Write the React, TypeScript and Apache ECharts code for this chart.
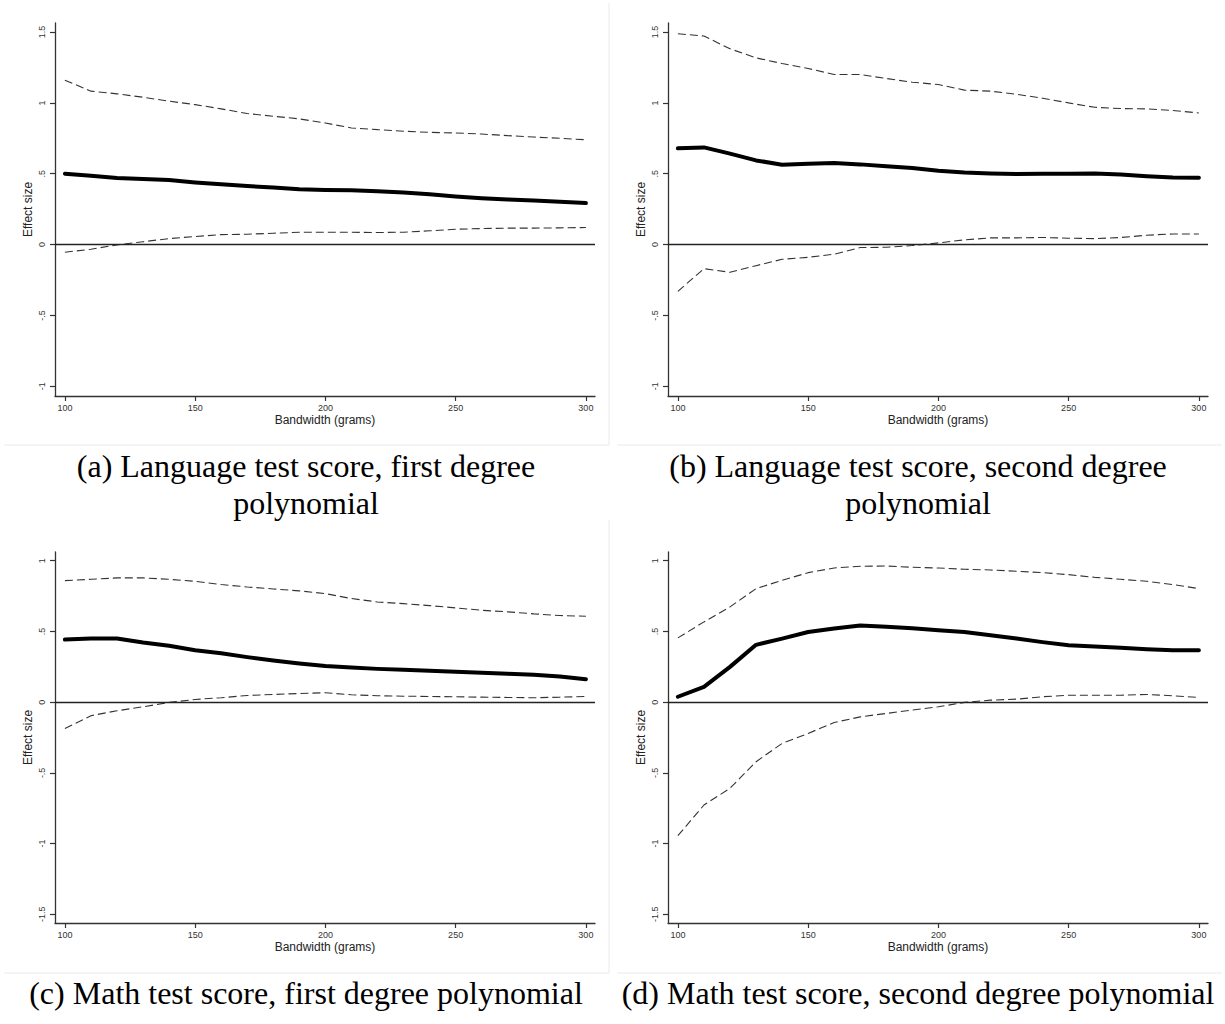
import React, { useEffect, useRef } from "react";
import * as echarts from "echarts";

// Bandwidths (grams) at which the discontinuity was estimated
const bandwidth = [100, 110, 120, 130, 140, 150, 160, 170, 180, 190, 200, 210, 220, 230, 240, 250, 260, 270, 280, 290, 300];

// (a) Language test score, first degree polynomial
const langFirstEst = [0.5, 0.485, 0.47, 0.462, 0.455, 0.438, 0.425, 0.413, 0.402, 0.39, 0.386, 0.383, 0.377, 0.368, 0.355, 0.34, 0.327, 0.318, 0.311, 0.303, 0.293];
const langFirstUpper = [1.16, 1.083, 1.064, 1.04, 1.012, 0.988, 0.958, 0.925, 0.906, 0.887, 0.858, 0.823, 0.811, 0.8, 0.792, 0.788, 0.78, 0.769, 0.759, 0.75, 0.74];
const langFirstLower = [-0.054, -0.033, -0.002, 0.02, 0.042, 0.057, 0.07, 0.073, 0.08, 0.087, 0.087, 0.087, 0.085, 0.087, 0.097, 0.108, 0.113, 0.116, 0.116, 0.118, 0.12];

// (b) Language test score, second degree polynomial
const langSecondEst = [0.679, 0.686, 0.642, 0.594, 0.564, 0.571, 0.575, 0.566, 0.552, 0.54, 0.521, 0.509, 0.502, 0.498, 0.5, 0.5, 0.502, 0.495, 0.483, 0.474, 0.472];
const langSecondUpper = [1.488, 1.472, 1.382, 1.318, 1.278, 1.243, 1.2, 1.2, 1.172, 1.146, 1.13, 1.09, 1.083, 1.061, 1.033, 1.0, 0.969, 0.96, 0.958, 0.946, 0.929];
const langSecondLower = [-0.33, -0.17, -0.196, -0.149, -0.104, -0.09, -0.068, -0.021, -0.019, -0.007, 0.012, 0.033, 0.047, 0.047, 0.05, 0.045, 0.042, 0.05, 0.066, 0.075, 0.075];

// (c) Math test score, first degree polynomial
const mathFirstEst = [0.442, 0.449, 0.449, 0.421, 0.398, 0.367, 0.346, 0.318, 0.294, 0.273, 0.256, 0.245, 0.235, 0.228, 0.221, 0.214, 0.207, 0.2, 0.193, 0.181, 0.162];
const mathFirstUpper = [0.859, 0.868, 0.878, 0.878, 0.868, 0.854, 0.831, 0.814, 0.8, 0.786, 0.767, 0.732, 0.708, 0.696, 0.682, 0.666, 0.649, 0.638, 0.624, 0.612, 0.607];
const mathFirstLower = [-0.186, -0.096, -0.061, -0.033, -0.002, 0.019, 0.031, 0.047, 0.054, 0.061, 0.066, 0.052, 0.045, 0.042, 0.04, 0.038, 0.035, 0.033, 0.031, 0.035, 0.04];

// (d) Math test score, second degree polynomial
const mathSecondEst = [0.038, 0.108, 0.249, 0.405, 0.449, 0.496, 0.52, 0.541, 0.532, 0.522, 0.508, 0.496, 0.473, 0.449, 0.424, 0.402, 0.393, 0.384, 0.374, 0.367, 0.367];
const mathSecondUpper = [0.454, 0.567, 0.673, 0.802, 0.861, 0.915, 0.948, 0.96, 0.962, 0.953, 0.948, 0.939, 0.934, 0.925, 0.915, 0.901, 0.882, 0.868, 0.854, 0.831, 0.802];
const mathSecondLower = [-0.944, -0.727, -0.609, -0.421, -0.292, -0.221, -0.144, -0.104, -0.08, -0.056, -0.033, -0.002, 0.014, 0.021, 0.038, 0.049, 0.049, 0.049, 0.054, 0.045, 0.033];

// Tick labels
const xTicks = [100, 150, 200, 250, 300];
const yTicksTop = [-1, -0.5, 0, 0.5, 1, 1.5];
const yTicksBottom = [-1.5, -1, -0.5, 0, 0.5, 1];

const xAxisTitle = "Bandwidth (grams)";
const yAxisTitle = "Effect size";

const captions = [
  ["(a) Language test score, first degree", "polynomial"],
  ["(b) Language test score, second degree", "polynomial"],
  ["(c) Math test score, first degree polynomial"],
  ["(d) Math test score, second degree polynomial"],
];

const panels = [
  { est: langFirstEst, upper: langFirstUpper, lower: langFirstLower, yTicks: yTicksTop, yMin: -1.069, yMax: 1.564, left: 55, top: 23, height: 373 },
  { est: langSecondEst, upper: langSecondUpper, lower: langSecondLower, yTicks: yTicksTop, yMin: -1.069, yMax: 1.564, left: 668, top: 23, height: 373 },
  { est: mathFirstEst, upper: mathFirstUpper, lower: mathFirstLower, yTicks: yTicksBottom, yMin: -1.561, yMax: 1.061, left: 55, top: 552, height: 371 },
  { est: mathSecondEst, upper: mathSecondUpper, lower: mathSecondLower, yTicks: yTicksBottom, yMin: -1.561, yMax: 1.061, left: 668, top: 552, height: 371 },
];

const AXIS_COLOR = "#333";
const SANS = "'Liberation Sans', Arial, Helvetica, sans-serif";
const SERIF = "'Liberation Serif', 'Times New Roman', serif";

const stataNum = (v: number) => String(v).replace(/^(-?)0\./, "$1.");

const toPoints = (ys: number[]) => bandwidth.map((x, i) => [x, ys[i]]);

function buildOption() {
  const grid: any[] = [];
  const xAxis: any[] = [];
  const yAxis: any[] = [];
  const series: any[] = [];

  panels.forEach((p, i) => {
    grid.push({ left: p.left, top: p.top, width: 540, height: p.height, containLabel: false });
    xAxis.push({
      type: "value",
      gridIndex: i,
      min: 96.2,
      max: 303.5,
      name: xAxisTitle,
      nameLocation: "middle",
      nameGap: 18,
      nameTextStyle: { fontFamily: SANS, fontSize: 12, color: "#222" },
      axisLine: { show: true, onZero: false, lineStyle: { color: AXIS_COLOR, width: 1.3 } },
      axisTick: { show: true, length: 5, customValues: xTicks, lineStyle: { color: AXIS_COLOR, width: 1.2 } },
      axisLabel: { customValues: xTicks, fontFamily: SANS, fontSize: 9, color: "#333", margin: 7 },
      splitLine: { show: false },
    });
    yAxis.push({
      type: "value",
      gridIndex: i,
      min: p.yMin,
      max: p.yMax,
      name: yAxisTitle,
      nameLocation: "middle",
      nameGap: 21,
      nameTextStyle: { fontFamily: SANS, fontSize: 12, color: "#222" },
      axisLine: { show: true, onZero: false, lineStyle: { color: AXIS_COLOR, width: 1.3 } },
      axisTick: { show: true, length: 5, customValues: p.yTicks, lineStyle: { color: AXIS_COLOR, width: 1.2 } },
      axisLabel: {
        customValues: p.yTicks,
        rotate: 90,
        fontFamily: SANS,
        fontSize: 9,
        color: "#333",
        margin: 9,
        formatter: (v: number) => stataNum(v),
      },
      splitLine: { show: false },
    });

    const dashed = { color: "#333", width: 1.1, type: [8, 4] };
    series.push({
      type: "line",
      xAxisIndex: i,
      yAxisIndex: i,
      data: toPoints(p.upper),
      symbol: "none",
      lineStyle: dashed,
      silent: true,
    });
    series.push({
      type: "line",
      xAxisIndex: i,
      yAxisIndex: i,
      data: toPoints(p.lower),
      symbol: "none",
      lineStyle: dashed,
      silent: true,
    });
    series.push({
      type: "line",
      xAxisIndex: i,
      yAxisIndex: i,
      data: toPoints(p.est),
      symbol: "none",
      lineStyle: { color: "#000", width: 4, cap: "round", join: "round" },
      silent: true,
      markLine: {
        silent: true,
        symbol: ["none", "none"],
        label: { show: false },
        lineStyle: { type: "solid", color: "#222", width: 1.3 },
        data: [{ yAxis: 0 }],
      },
    });
  });

  // Captions under each panel
  const captionCenters = [
    { x: 306, ys: [466, 503] },
    { x: 918, ys: [466, 503] },
    { x: 306, ys: [993] },
    { x: 918, ys: [993] },
  ];
  const graphic: any[] = [];
  captions.forEach((lines, i) => {
    lines.forEach((line, j) => {
      graphic.push({
        type: "text",
        x: captionCenters[i].x,
        y: captionCenters[i].ys[j],
        silent: true,
        style: {
          text: line,
          fontFamily: SERIF,
          fontSize: 32,
          fill: "#000",
          textAlign: "center",
          textVerticalAlign: "middle",
        },
      });
    });
  });

  // Faint frames around the panels
  const frame = { stroke: "#e5ecec", lineWidth: 1 };
  const frameLines = [
    [609, 3, 609, 445],
    [4, 445, 609, 445],
    [617, 445, 1222, 445],
    [609, 520, 609, 973],
    [4, 973, 609, 973],
    [617, 973, 1222, 973],
  ];
  frameLines.forEach(([x1, y1, x2, y2]) => {
    graphic.push({ type: "line", silent: true, shape: { x1, y1, x2, y2 }, style: frame, z: -1 });
  });

  return {
    animation: false,
    backgroundColor: "#fff",
    grid,
    xAxis,
    yAxis,
    series,
    graphic,
  };
}

export default function App() {
  const ref = useRef<HTMLDivElement>(null);

  useEffect(() => {
    if (!ref.current) return;
    const chart = echarts.init(ref.current, undefined, { renderer: "svg" });
    chart.setOption(buildOption() as any);
    return () => chart.dispose();
  }, []);

  return (
    <div
      ref={ref}
      style={{ position: "absolute", left: 0, top: 0, width: 1225, height: 1024, background: "#fff" }}
    />
  );
}
